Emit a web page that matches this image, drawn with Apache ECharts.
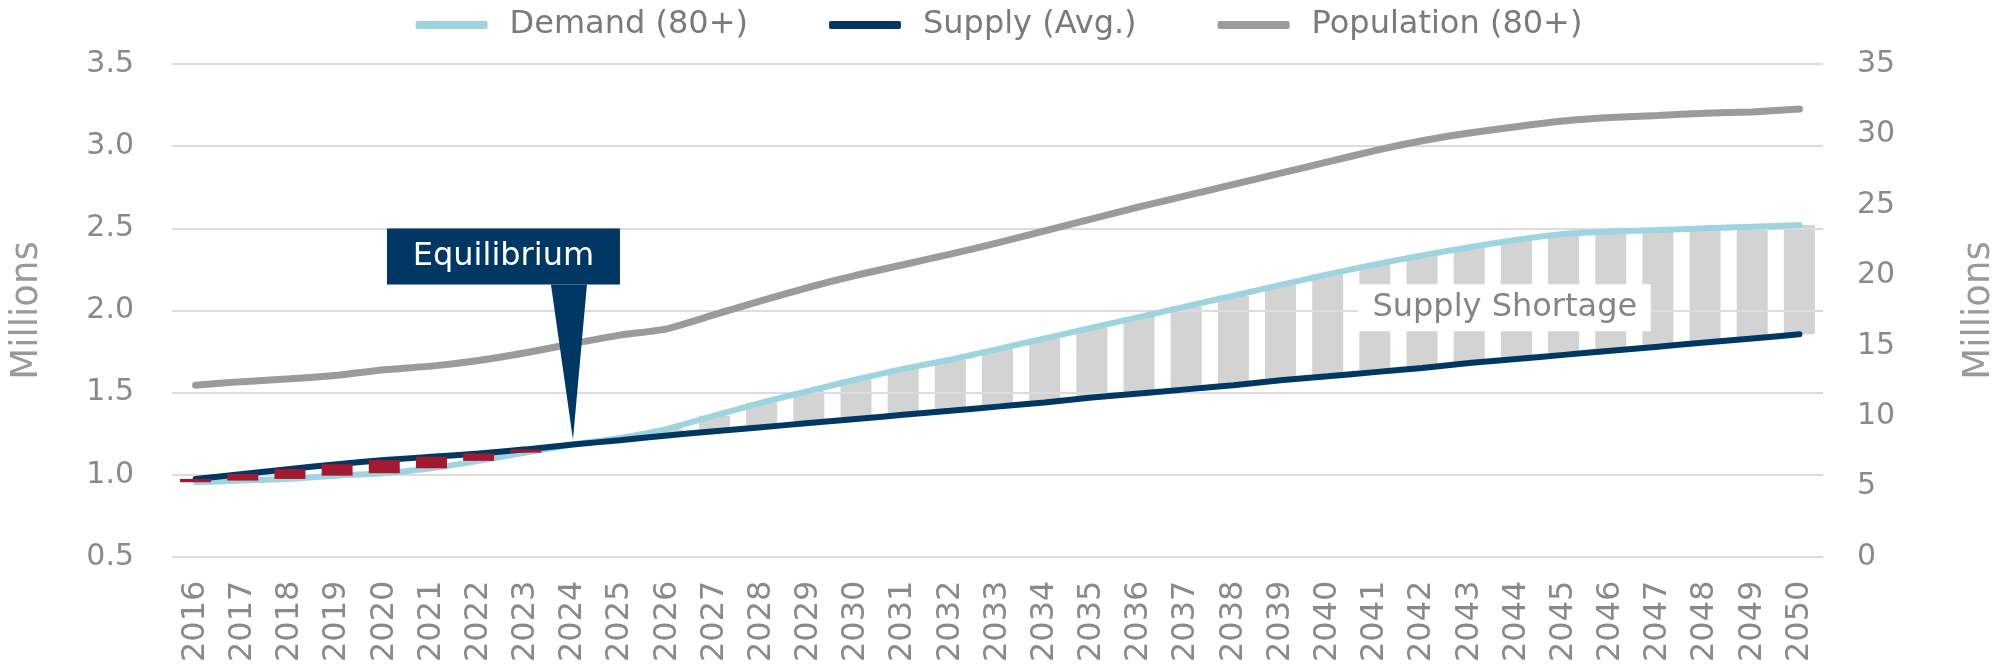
<!DOCTYPE html>
<html>
<head>
<meta charset="utf-8">
<script src="https://cdn.jsdelivr.net/npm/echarts@6/dist/echarts.min.js"></script>
<style>
html,body{margin:0;padding:0;background:#fff;}
#chart{width:1998px;height:669px;}
</style>
</head>
<body>
<div id="chart"></div>
<script>
const years = ['2016','2017','2018','2019','2020','2021','2022','2023','2024','2025','2026','2027','2028','2029','2030','2031','2032','2033','2034','2035','2036','2037','2038','2039','2040','2041','2042','2043','2044','2045','2046','2047','2048','2049','2050'];
const demand = [0.955,0.965,0.975,0.995,1.01,1.04,1.085,1.135,1.185,1.225,1.28,1.36,1.44,1.51,1.58,1.645,1.70,1.765,1.83,1.895,1.96,2.025,2.09,2.155,2.22,2.28,2.335,2.385,2.43,2.465,2.48,2.49,2.50,2.51,2.52];
const supply = [0.975,1.005,1.035,1.065,1.09,1.11,1.13,1.155,1.185,1.21,1.24,1.265,1.29,1.315,1.34,1.365,1.39,1.415,1.44,1.47,1.495,1.52,1.545,1.575,1.60,1.625,1.65,1.68,1.705,1.73,1.755,1.78,1.805,1.83,1.855];
const population = [12.2,12.45,12.65,12.9,13.3,13.55,13.95,14.5,15.15,15.75,16.2,17.2,18.2,19.15,20.0,20.75,21.5,22.3,23.15,24.0,24.85,25.65,26.45,27.25,28.05,28.85,29.55,30.1,30.55,30.95,31.2,31.35,31.5,31.6,31.8];
const leftTicks = {min:0.5, max:3.5, interval:0.5};
const rightTicks = {min:0, max:35, interval:5};
const names = {demand:'Demand (80+)', supply:'Supply (Avg.)', population:'Population (80+)', axis:'Millions', equilibrium:'Equilibrium', shortage:'Supply Shortage'};
const equilibriumIndex = 8;

// derived gap bars (from the arrays above)
const gapBase = demand.map((d,i)=>+Math.min(d,supply[i]).toFixed(4));
const surplus = demand.map((d,i)=>+Math.max(supply[i]-d,0).toFixed(4));
const shortage = demand.map((d,i)=>+Math.max(d-supply[i],0).toFixed(4));

const FONT = 'DejaVu Sans';
const chart = echarts.init(document.getElementById('chart'), null, {renderer:'canvas'});
const option = {
  animation:false,
  textStyle:{fontFamily:FONT},
  legend:{
    top:4, left:'center',
    itemWidth:72, itemHeight:8, itemGap:81,
    textStyle:{fontFamily:FONT, fontSize:32, color:'#7a7a7a', padding:[0,0,0,17]},
    data:[
      {name:names.demand, icon:'roundRect'},
      {name:names.supply, icon:'roundRect'},
      {name:names.population, icon:'roundRect'}
    ]
  },
  grid:{left:172, right:175, top:64, bottom:112, containLabel:false, outerBoundsMode:'none'},
  xAxis:{
    type:'category', data:years, boundaryGap:true,
    axisLine:{show:false}, axisTick:{show:false},
    axisLabel:{rotate:90, interval:0, fontSize:32, color:'#8a8a8a', fontFamily:FONT, margin:105, align:'left', verticalAlign:'middle'}
  },
  yAxis:[
    {type:'value', min:leftTicks.min, max:leftTicks.max, interval:leftTicks.interval,
     name:names.axis, nameLocation:'middle', nameRotate:90, nameGap:126,
     nameTextStyle:{fontSize:37, color:'#9a9a9a', fontFamily:FONT},
     axisLine:{show:false}, axisTick:{show:false},
     axisLabel:{fontSize:30, color:'#8a8a8a', fontFamily:FONT, margin:38, formatter:v=>v.toFixed(1)},
     splitLine:{lineStyle:{color:'#dcdcdc', width:2}}
    },
    {type:'value', min:rightTicks.min, max:rightTicks.max, interval:rightTicks.interval,
     name:names.axis, nameLocation:'middle', nameRotate:90, nameGap:138,
     nameTextStyle:{fontSize:37, color:'#9a9a9a', fontFamily:FONT},
     axisLine:{show:false}, axisTick:{show:false},
     axisLabel:{fontSize:30, color:'#8a8a8a', fontFamily:FONT, margin:34},
     splitLine:{show:false}
    }
  ],
  series:[
    {name:'base', type:'bar', stack:'gap', yAxisIndex:0, data:gapBase, barWidth:31,
     itemStyle:{color:'rgba(0,0,0,0)'}, z:-1, silent:true},
    {name:'shortage', type:'bar', stack:'gap', yAxisIndex:0, data:shortage,
     itemStyle:{color:'#d3d3d3'}, z:-1, silent:true},
    {name:'surplus', type:'bar', stack:'gap', yAxisIndex:0, data:surplus,
     itemStyle:{color:'#a3192f'}, z:6, silent:true},
    {name:names.population, type:'line', yAxisIndex:1, data:population, symbol:'none', smooth:0.15,
     lineStyle:{color:'#9b9b9b', width:7, cap:'round'}, itemStyle:{color:'#9b9b9b'}, z:3},
    {name:names.demand, type:'line', yAxisIndex:0, data:demand, symbol:'none', smooth:0.15,
     lineStyle:{color:'#9ed4df', width:6, cap:'round'}, itemStyle:{color:'#9ed4df'}, z:3},
    {name:names.supply, type:'line', yAxisIndex:0, data:supply, symbol:'none', smooth:0.15,
     lineStyle:{color:'#003763', width:6, cap:'round'}, itemStyle:{color:'#003763'}, z:4}
  ]
};
chart.setOption(option);

function annotate(){
  const tip = chart.convertToPixel({xAxisIndex:0, yAxisIndex:0}, [equilibriumIndex, supply[equilibriumIndex]]);
  const tx = tip[0], ty = tip[1] - 5;
  const boxW = 233, boxH = 56, boxDX = -186, boxBottom = 155;
  const a = chart.convertToPixel({xAxisIndex:0, yAxisIndex:0}, [27, 2.02]);
  const b = chart.convertToPixel({xAxisIndex:0, yAxisIndex:0}, [28, 2.02]);
  const sx = (a[0]+b[0])/2 + 12, sy = a[1];
  chart.setOption({graphic:[
    {type:'rect', z:100, shape:{x:tx+boxDX, y:ty-boxBottom-boxH, width:boxW, height:boxH}, style:{fill:'#003763'}},
    {type:'polygon', z:100, shape:{points:[[tx-22,ty-boxBottom],[tx+14,ty-boxBottom],[tx,ty]]}, style:{fill:'#003763'}},
    {type:'text', z:101, x:tx+boxDX+boxW/2, y:ty-boxBottom-boxH/2,
     style:{text:names.equilibrium, fill:'#ffffff', font:'32px "DejaVu Sans"', align:'center', verticalAlign:'middle'}},
    {type:'rect', z:100, shape:{x:sx-147, y:sy-23, width:293, height:47}, style:{fill:'#ffffff'}},
    {type:'text', z:101, x:sx, y:sy,
     style:{text:names.shortage, fill:'#858585', font:'32px "DejaVu Sans"', align:'center', verticalAlign:'middle'}}
  ]});
}
annotate();
</script>
</body>
</html>
